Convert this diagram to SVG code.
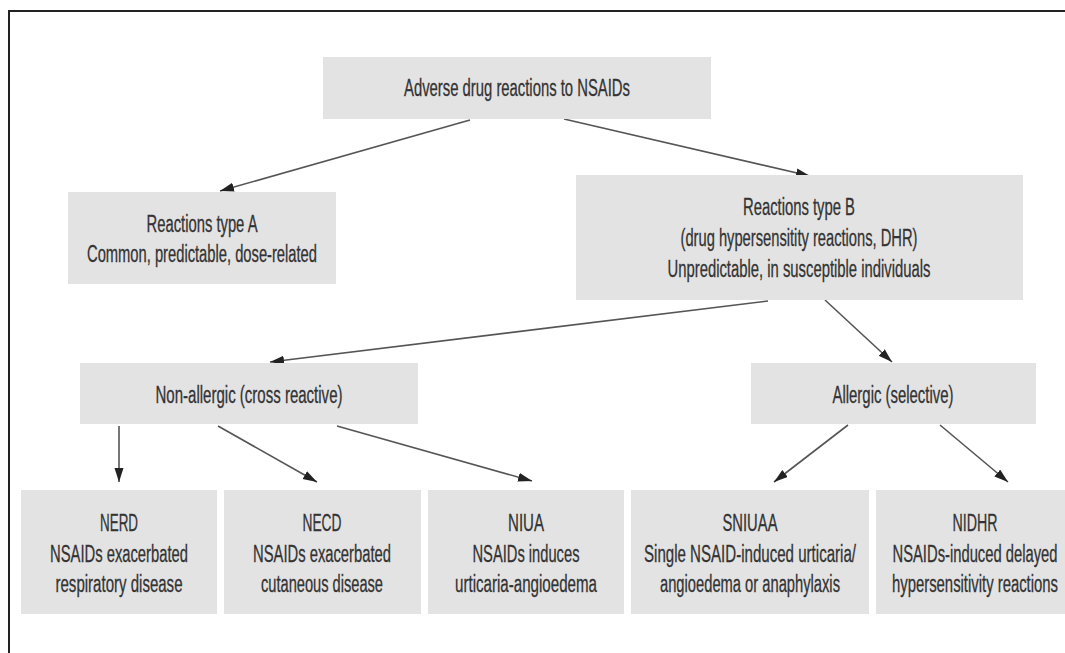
<svg xmlns="http://www.w3.org/2000/svg" width="1065" height="653" viewBox="0 0 1065 653">
<style>
.box{fill:#e3e3e3;}
.t{font-family:"Liberation Sans Narrow","Liberation Sans",Arial,sans-serif;font-size:23px;fill:#333;stroke:#333;stroke-width:0.3;text-anchor:middle;}
.c{stroke:#555;stroke-width:1.6;fill:none;marker-end:url(#ah);}
.frame{stroke:#222;stroke-width:2;fill:none;}
</style>
<defs>
<marker id="ah" markerUnits="userSpaceOnUse" markerWidth="15" markerHeight="10" refX="14" refY="4.5" orient="auto">
<path d="M0,0 L14,4.5 L0,9 z" fill="#222"/>
</marker>
</defs>
<rect width="1065" height="653" fill="#fff"/>
<path class="frame" d="M9,653 L9,11 L1065,11"/>

<g id="connectors">
<line class="c" x1="470" y1="120" x2="220" y2="191"/>
<line class="c" x1="564" y1="119" x2="810" y2="176"/>
<line class="c" x1="768" y1="301" x2="270" y2="362"/>
<line class="c" x1="825" y1="300" x2="892" y2="362"/>
<line class="c" x1="119" y1="426" x2="119" y2="482"/>
<line class="c" x1="218" y1="426" x2="317" y2="482"/>
<line class="c" x1="337" y1="426" x2="532" y2="481"/>
<line class="c" x1="848" y1="425" x2="774" y2="482"/>
<line class="c" x1="940" y1="425" x2="1008" y2="482"/>
</g>

<g id="node-root">
<rect class="box" x="323" y="57" width="388" height="62"/>
<text class="t" x="517" y="96" textLength="226" lengthAdjust="spacingAndGlyphs">Adverse drug reactions to NSAIDs</text>
</g>

<g id="node-typeA">
<rect class="box" x="68" y="192" width="268" height="92"/>
<text class="t" x="202" y="232" textLength="111" lengthAdjust="spacingAndGlyphs">Reactions type A</text>
<text class="t" x="202" y="262" textLength="230" lengthAdjust="spacingAndGlyphs">Common, predictable, dose-related</text>
</g>

<g id="node-typeB">
<rect class="box" x="576" y="175" width="447" height="125"/>
<text class="t" x="799" y="215" textLength="112" lengthAdjust="spacingAndGlyphs">Reactions type B</text>
<text class="t" x="799" y="246" textLength="237" lengthAdjust="spacingAndGlyphs">(drug hypersensitity reactions, DHR)</text>
<text class="t" x="799" y="277" textLength="263" lengthAdjust="spacingAndGlyphs">Unpredictable, in susceptible individuals</text>
</g>

<g id="node-nonallergic">
<rect class="box" x="80" y="363" width="338" height="61"/>
<text class="t" x="249" y="403" textLength="187" lengthAdjust="spacingAndGlyphs">Non-allergic (cross reactive)</text>
</g>

<g id="node-allergic">
<rect class="box" x="751" y="363" width="285" height="61"/>
<text class="t" x="893" y="403" textLength="121" lengthAdjust="spacingAndGlyphs">Allergic (selective)</text>
</g>

<g id="node-nerd">
<rect class="box" x="21" y="490" width="196" height="124"/>
<text class="t" x="119" y="531" textLength="38" lengthAdjust="spacingAndGlyphs">NERD</text>
<text class="t" x="119" y="562" textLength="138" lengthAdjust="spacingAndGlyphs">NSAIDs exacerbated</text>
<text class="t" x="119" y="592" textLength="127" lengthAdjust="spacingAndGlyphs">respiratory disease</text>
</g>

<g id="node-necd">
<rect class="box" x="224" y="490" width="197" height="124"/>
<text class="t" x="322" y="531" textLength="39" lengthAdjust="spacingAndGlyphs">NECD</text>
<text class="t" x="322" y="562" textLength="138" lengthAdjust="spacingAndGlyphs">NSAIDs exacerbated</text>
<text class="t" x="322" y="592" textLength="122" lengthAdjust="spacingAndGlyphs">cutaneous disease</text>
</g>

<g id="node-niua">
<rect class="box" x="428" y="490" width="196" height="124"/>
<text class="t" x="526" y="531" textLength="36" lengthAdjust="spacingAndGlyphs">NIUA</text>
<text class="t" x="526" y="562" textLength="107" lengthAdjust="spacingAndGlyphs">NSAIDs induces</text>
<text class="t" x="526" y="592" textLength="142" lengthAdjust="spacingAndGlyphs">urticaria-angioedema</text>
</g>

<g id="node-sniuaa">
<rect class="box" x="631" y="490" width="238" height="124"/>
<text class="t" x="750" y="531" textLength="55" lengthAdjust="spacingAndGlyphs">SNIUAA</text>
<text class="t" x="750" y="562" textLength="212" lengthAdjust="spacingAndGlyphs">Single NSAID-induced urticaria/</text>
<text class="t" x="750" y="592" textLength="180" lengthAdjust="spacingAndGlyphs">angioedema or anaphylaxis</text>
</g>

<g id="node-nidhr">
<rect class="box" x="876" y="490" width="200" height="124"/>
<text class="t" x="975" y="531" textLength="45" lengthAdjust="spacingAndGlyphs">NIDHR</text>
<text class="t" x="975" y="562" textLength="165" lengthAdjust="spacingAndGlyphs">NSAIDs-induced delayed</text>
<text class="t" x="975" y="592" textLength="166" lengthAdjust="spacingAndGlyphs">hypersensitivity reactions</text>
</g>
</svg>
